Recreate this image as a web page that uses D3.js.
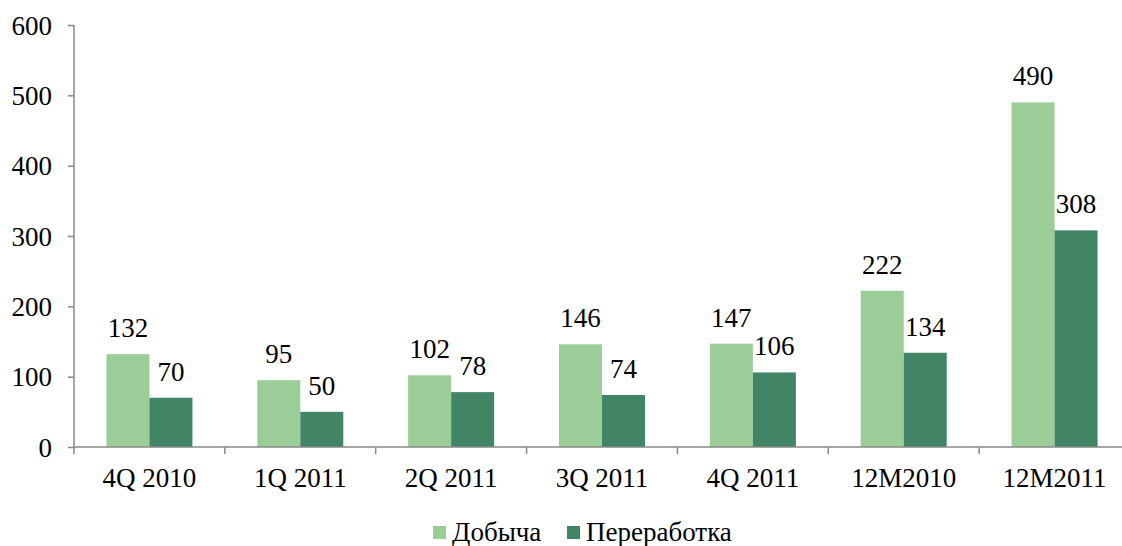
<!DOCTYPE html>
<html><head><meta charset="utf-8">
<script src="https://cdn.jsdelivr.net/npm/d3@7/dist/d3.min.js"></script>
<style>body{margin:0;background:#fff}svg{display:block}text{font-family:"Liberation Serif","Times New Roman",serif}</style>
</head><body>
<script>
const categories = ["4Q 2010","1Q 2011","2Q 2011","3Q 2011","4Q 2011","12M2010","12M2011"];
const seriesNames = ["Добыча","Переработка"];
const dobycha = [132,95,102,146,147,222,490];
const pererabotka = [70,50,78,74,106,134,308];
const yTicks = [0,100,200,300,400,500,600];
const colors = ["#9BCD99","#428466"];

const W=1122,H=546,FS=27;
const svg=d3.select("body").append("svg").attr("width",W).attr("height",H);
const x=d3.scaleBand().domain(categories).range([74,1130]).paddingInner(0.43).paddingOuter(0.215);
const y=d3.scaleLinear().domain([0,600]).range([447,25]);
const xs=d3.scaleBand().domain(seriesNames).range([0,x.bandwidth()]);
const band=(1130-74)/categories.length;

// y axis
const ya=svg.append("g").attr("transform","translate(74,0)")
  .call(d3.axisLeft(y).tickValues(yTicks).tickSize(6).tickPadding(16).tickFormat(d3.format("d")));
ya.attr("font-family",null).attr("font-size",null);
ya.select(".domain").attr("stroke","#888").attr("stroke-width",1.5).attr("d","M0,25V447");
ya.selectAll(".tick line").attr("stroke","#888").attr("stroke-width",1.5);
ya.selectAll("text").attr("font-size",FS).attr("fill","#000").attr("dy","0.34em");

const data=[dobycha,pererabotka];
data.forEach((vals,si)=>{
  const g=svg.append("g");
  g.selectAll("rect").data(vals).join("rect")
    .attr("x",(d,i)=>x(categories[i])+xs(seriesNames[si]))
    .attr("width",xs.bandwidth())
    .attr("y",d=>y(d)).attr("height",d=>y(0)-y(d))
    .attr("fill",colors[si]);
  g.selectAll("text").data(vals).join("text")
    .attr("x",(d,i)=>x(categories[i])+xs(seriesNames[si])+xs.bandwidth()/2)
    .attr("y",d=>y(d)-17).attr("text-anchor","middle")
    .attr("font-size",FS).attr("fill","#000").text(d=>d);
});

// x axis
const xa=svg.append("g").attr("transform","translate(0,447)");
xa.append("line").attr("x1",74).attr("x2",1130).attr("stroke","#888").attr("stroke-width",1.5);
xa.selectAll("line.tk").data(d3.range(categories.length+1)).join("line").attr("class","tk")
  .attr("x1",i=>74+i*band).attr("x2",i=>74+i*band).attr("y1",0).attr("y2",7)
  .attr("stroke","#888").attr("stroke-width",1.5);
xa.selectAll("text").data(categories).join("text")
  .attr("x",d=>x(d)+x.bandwidth()/2).attr("y",40).attr("text-anchor","middle")
  .attr("font-size",FS).attr("fill","#000").text(d=>d);

// legend
const leg=svg.append("g");
const lx=[433,567];
seriesNames.forEach((n,i)=>{
  leg.append("rect").attr("x",lx[i]).attr("y",526).attr("width",13).attr("height",13).attr("fill",colors[i]);
  leg.append("text").attr("x",lx[i]+19).attr("y",541).attr("font-size",FS).attr("fill","#000").text(n);
});
</script>
</body></html>
